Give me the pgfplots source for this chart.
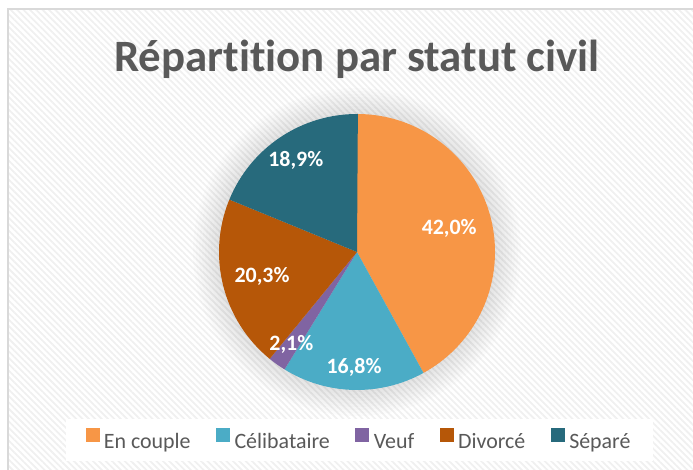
\documentclass[border=0pt]{standalone}
\usepackage{fontspec}
\setmainfont{Carlito}[Ligatures={NoCommon,NoDiscretionary,NoRare}]
\usepackage{pgfplots}
\usepackage{pgfplotstable}
\pgfplotsset{compat=1.18}
\usetikzlibrary{patterns.meta}

\definecolor{cA}{HTML}{F79646}
\definecolor{cB}{HTML}{4BACC6}
\definecolor{cC}{HTML}{8064A2}
\definecolor{cD}{HTML}{B65708}
\definecolor{cE}{HTML}{276A7C}
\definecolor{txt}{HTML}{595959}
\definecolor{frame}{HTML}{D9D9D9}

% share in percent, slice colour, label distance (fraction of radius)
\pgfplotstableread[col sep=comma]{
name,value,col,dist
En couple,42.0,cA,0.69
Célibataire,16.8,cB,0.84
Veuf,2.1,cC,0.82
Divorcé,20.3,cD,0.71
Séparé,18.9,cE,0.80
}\piedata
\pgfplotstablecreatecol[expr accum={\pgfmathaccuma+\thisrow{value}}{0}]{cum}\piedata

\pgfplotsset{sq/.style={legend image code/.code={\fill[#1] (0bp,0bp) rectangle (13bp,13bp);}}}

\begin{document}
\begin{tikzpicture}
\begin{axis}[
  scale only axis, width=693bp, height=470bp,
  xmin=0, xmax=693, ymin=0, ymax=470,
  hide axis, clip=false,
  legend columns=5,
  legend cell align=left,
  legend style={at={(axis cs:359,30)}, anchor=center, draw=none, fill=white,
    font=\fontsize{22}{26}\selectfont, text=txt, inner xsep=20bp, inner ysep=9bp,
    /tikz/every odd column/.append style={column sep=3bp},
    /tikz/every even column/.append style={column sep=23.5bp}},
]
\coordinate (BL) at (axis cs:0,0);
\coordinate (TR) at (axis cs:693,470);
% background and frame
\fill[pattern={Lines[angle=-45,distance=4.5bp,line width=1.8bp]}, pattern color=black!6]
  (axis cs:8,0) rectangle (axis cs:693,461);
\draw[frame, line width=1.2bp] (axis cs:8,0) -- (axis cs:8,461) -- (axis cs:693,461);
% title
\node[anchor=base, text=txt, font=\fontsize{45}{54}\selectfont\bfseries]
  at (axis cs:357,398) {Répartition par statut civil};
% soft shadow round the pie
\pgfplotsinvokeforeach{140,143,...,164}{\fill[black, opacity=0.012] (axis cs:357,218) circle[radius=#1bp];}
% slices, clockwise from the top
\pgfplotsinvokeforeach{0,...,4}{
  \pgfplotstablegetelem{#1}{value}\of\piedata \let\v=\pgfplotsretval
  \pgfplotstablegetelem{#1}{cum}\of\piedata \let\c=\pgfplotsretval
  \pgfplotstablegetelem{#1}{col}\of\piedata \let\col=\pgfplotsretval
  \pgfplotstablegetelem{#1}{name}\of\piedata \let\nm=\pgfplotsretval
  \pgfmathsetmacro\aend{90-3.6*\c}
  \pgfmathsetmacro\astart{\aend+3.6*\v}
  \edef\temp{%
    \noexpand\fill[\col] (axis cs:357,218) -- ++(\astart:138bp)
      arc[start angle=\astart, end angle=\aend, radius=138bp] -- cycle;
    \noexpand\addlegendimage{sq=\col}
    \noexpand\addlegendentry{\nm}%
  }
  \temp
}
% value labels on top of all slices
\pgfplotsinvokeforeach{0,...,4}{
  \pgfplotstablegetelem{#1}{value}\of\piedata \let\v=\pgfplotsretval
  \pgfplotstablegetelem{#1}{cum}\of\piedata \let\c=\pgfplotsretval
  \pgfplotstablegetelem{#1}{dist}\of\piedata \let\d=\pgfplotsretval
  \pgfmathsetmacro\amid{90-3.6*(\c-\v/2)}
  \pgfmathsetmacro\lx{357+138*\d*cos(\amid)}
  \pgfmathsetmacro\ly{218+138*\d*sin(\amid)}
  \edef\temp{%
    \noexpand\node[text=white, font=\noexpand\fontsize{22}{26}\noexpand\selectfont\noexpand\bfseries]
      at (axis cs:\lx,\ly) {\noexpand\pgfmathprintnumber[fixed,fixed zerofill,precision=1,use comma,assume math mode=true]{\v}\noexpand\%};%
  }
  \temp
}
\end{axis}
\pgfresetboundingbox
\path[use as bounding box] (BL) rectangle (TR);
\end{tikzpicture}
\end{document}
